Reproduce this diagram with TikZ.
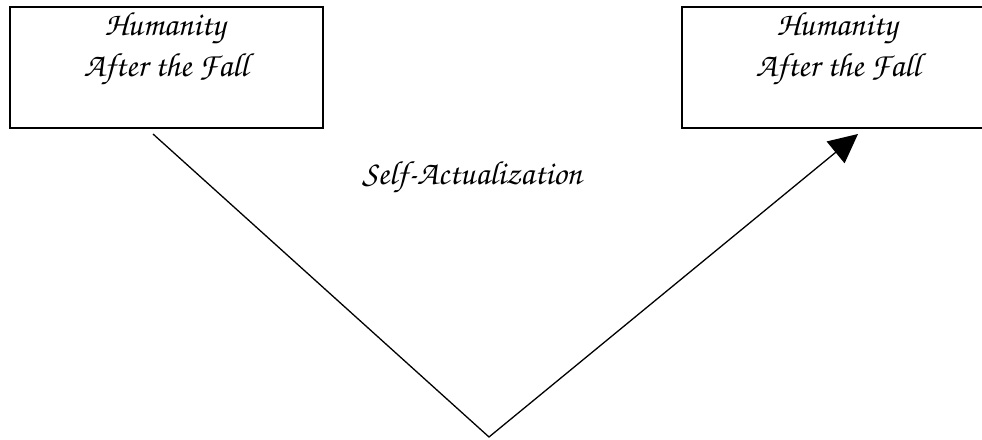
\documentclass[tikz,border=0pt]{standalone}
\usepackage{fontspec}
\setmainfont{TeX Gyre Chorus}
\usetikzlibrary{arrows.meta}

\begin{document}
\begin{tikzpicture}[x=1pt,y=1pt,
  box/.style={draw=black, line width=2pt, minimum width=#1, minimum height=121pt,
              inner sep=0pt, anchor=north west},
  boxtext/.style={anchor=base, inner sep=0pt, font=\fontsize{33.5}{38}\selectfont},
  title/.style={anchor=base, inner sep=0pt, font=\fontsize{33.5}{38}\selectfont},
  link/.style={draw=black, line width=1.3pt}]
  \useasboundingbox (0,0) rectangle (982,439);
  \clip (0,0) rectangle (982,439);

  % the two boxes
  \node[box=313pt] (boxL) at (9,433) {};
  \node[box=314pt] (boxR) at (681,433) {};

  % box captions
  \node[boxtext] (humL) at (165,403) {Humanity};
  \node[boxtext] (aftL) at (166,362) {After the Fall};
  \node[boxtext] (humR) at (837,403) {Humanity};
  \node[boxtext] (aftR) at (838,362) {After the Fall};

  % middle label
  \node[title] (self) at (472,254) {Self-Actualization};

  % the V-shaped path ending in an arrow
  \coordinate (vstart) at (153,305);
  \coordinate (apex) at (489,2);
  \coordinate (vend) at (858,305);
  \draw[link, -{Triangle[length=29pt,width=28pt]}] (vstart) -- (apex) -- (vend);
\end{tikzpicture}
\end{document}
